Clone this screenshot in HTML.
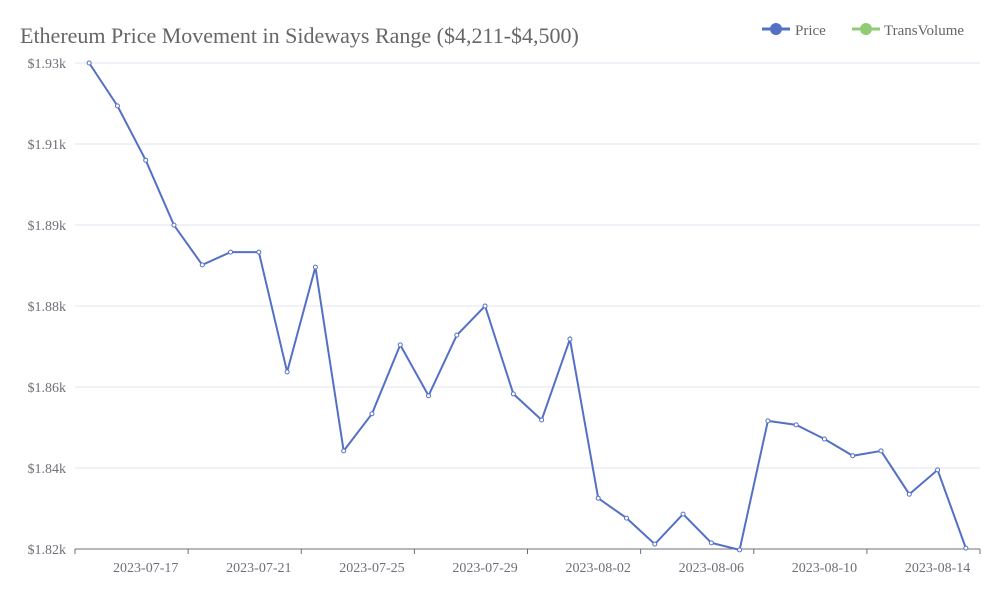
<!DOCTYPE html>
<html><head><meta charset="utf-8"><style>
body{margin:0;background:#fff;}
svg{display:block;font-family:"Liberation Serif",serif;}
</style></head><body>
<svg id="chart" width="1000" height="600">
<text x="20" y="43" font-size="22" fill="#666">Ethereum Price Movement in Sideways Range ($4,211-$4,500)</text>
<g>
<line x1="762" y1="29" x2="790" y2="29" stroke="#5470c6" stroke-width="3"/>
<circle cx="776" cy="29" r="6" fill="#5470c6"/>
<text x="795" y="35" font-size="15" fill="#666">Price</text></g>
<g>
<line x1="852" y1="29" x2="880" y2="29" stroke="#91cc75" stroke-width="3"/>
<circle cx="866" cy="29" r="6" fill="#91cc75"/>
<text x="884" y="35" font-size="15" fill="#666">TransVolume</text></g>
<g id="grid"></g><g id="xaxis"></g><g id="series"></g>
</svg>
<script>
const dates=[];for(let i=0;i<32;i++){const d=new Date(Date.UTC(2023,6,15+i));dates.push(d.toISOString().slice(0,10));}
const prices=[1930,1920.3,1908.0,1893.3,1884.3,1887.2,1887.2,1860.1,1883.8,1842.2,1850.6,1866.2,1854.7,1868.4,1875.0,1855.1,1849.2,1867.5,1831.5,1827.0,1821.1,1827.9,1821.4,1819.8,1849.0,1848.1,1844.9,1841.1,1842.2,1832.4,1837.9,1820.2];
const yTicks=[1820,1838.33,1856.67,1875,1893.33,1911.67,1930];
const yMin=1820,yMax=1930;
const L=75,R=980,T=63,B=549;
const ns="http://www.w3.org/2000/svg";
const step=(R-L)/dates.length;
const x=i=>L+step*(i+0.5);
const y=v=>B-(v-yMin)/(yMax-yMin)*(B-T);
function mk(t,a,p){const e=document.createElementNS(ns,t);for(const k in a)e.setAttribute(k,a[k]);p.appendChild(e);return e;}
const grid=document.getElementById('grid'),xa=document.getElementById('xaxis'),se=document.getElementById('series');
yTicks.forEach((v,i)=>{
 const ln=mk('line',{x1:L,x2:R,y1:y(v),y2:y(v),stroke:i==0?'#6e7079':'#e0e6f1'},grid);
 
 
 const t=mk('text',{x:66,y:y(v)+5,'text-anchor':'end','font-size':14,fill:'#6e7079'},grid);
 t.textContent='$'+(v/1000).toFixed(2)+'k';
 
 
});
for(let i=0;i<=dates.length;i+=4){
 const tk=mk('line',{x1:L+step*i,x2:L+step*i,y1:B,y2:B+5,stroke:'#6e7079'},xa);
 
 
}
for(let i=2;i<dates.length;i+=4){
 const t=mk('text',{x:x(i),y:B+23,'text-anchor':'middle','font-size':14,fill:'#6e7079'},xa);
 t.textContent=dates[i];
 
 
}
const pl=mk('polyline',{points:prices.map((v,i)=>x(i)+','+y(v)).join(' '),fill:'none',stroke:'#5470c6','stroke-width':2},se);


prices.forEach((v,i)=>{
 const c=mk('circle',{cx:x(i),cy:y(v),r:2,fill:'#fff',stroke:'#5470c6','stroke-width':1},se);
 
 
});
</script>
</body></html>
